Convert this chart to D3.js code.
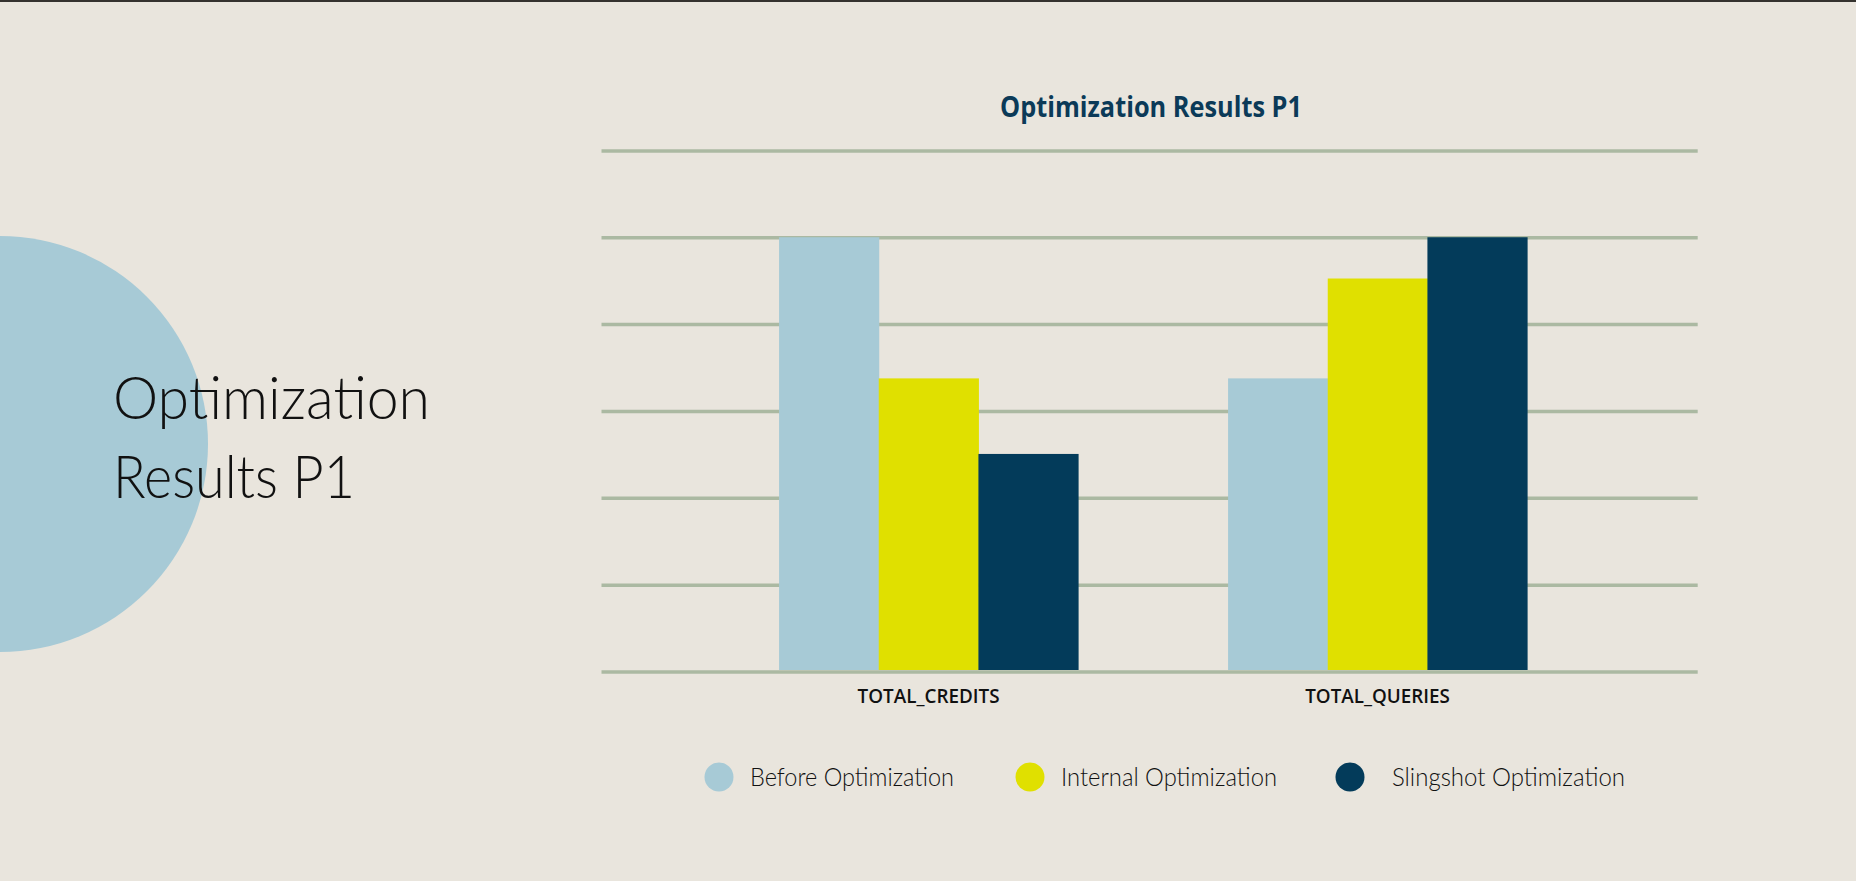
<!DOCTYPE html>
<html>
<head>
<meta charset="utf-8">
<script src="https://cdn.jsdelivr.net/npm/d3@7/dist/d3.min.js"></script>
<style>
  html, body { margin: 0; padding: 0; background: #e9e5dd; }
  svg { display: block; }
</style>
</head>
<body>
<svg id="chart" width="1856" height="881"></svg>
<script>
// ---- data ----
const categories = ["TOTAL_CREDITS", "TOTAL_QUERIES"];
const seriesNames = ["Before Optimization", "Internal Optimization", "Slingshot Optimization"];
const beforeValues = [100, 67.5];
const internalValues = [67.5, 90.5];
const slingshotValues = [50.1, 100];
const yTicks = [0, 20, 40, 60, 80, 100, 120];
const chartTitle = "Optimization Results P1";
const sideTitleLines = ["Optimization", "Results P1"];

// ---- styles ----
const colors = ["#a7cad6", "#e0e000", "#033b5a"];
const W = 1856, H = 881;
const svg = d3.select("#chart");

svg.append("rect").attr("width", W).attr("height", H).attr("fill", "#e9e5dd");
svg.append("rect").attr("width", W).attr("height", 2).attr("fill", "#34322e");

// decorative circle
svg.append("circle").attr("cx", 0).attr("cy", 444).attr("r", 208).attr("fill", "#a7cad6");

// side title
const sideWidths = [317, 242];
svg.append("g").selectAll("text").data(sideTitleLines).join("text")
  .attr("x", 113)
  .attr("y", (d, i) => 419 + i * 78.7)
  .attr("font-family", "Lato, 'Open Sans', sans-serif")
  .attr("font-weight", 300)
  .attr("font-size", 60)
  .attr("fill", "#111")
  .attr("textLength", (d, i) => sideWidths[i])
  .attr("lengthAdjust", "spacingAndGlyphs")
  .text(d => d);

// scales
const x0 = d3.scaleBand().domain(categories).range([601.5, 1697.7])
  .paddingInner(0.334).paddingOuter(0.3877).align(0.51);
const x1 = d3.scaleBand().domain(seriesNames).range([0, x0.bandwidth()]);
const y = d3.scaleLinear().domain([0, 120]).range([671.5, 150.4]);

// gridlines
svg.append("g")
  .attr("transform", "translate(601.5,0)")
  .call(d3.axisLeft(y).tickValues(yTicks).tickSize(-(1697.7 - 601.5)).tickFormat(""))
  .call(g => g.select(".domain").remove())
  .call(g => g.selectAll(".tick line").attr("stroke", "#abb9a2").attr("stroke-width", 3.5));

// title
svg.append("text")
  .attr("x", 1151).attr("y", 116.5)
  .attr("text-anchor", "middle")
  .attr("font-family", "'Open Sans', sans-serif")
  .attr("font-weight", 700)
  .attr("font-size", 29)
  .attr("fill", "#0b3a58")
  .attr("textLength", 302)
  .attr("lengthAdjust", "spacingAndGlyphs")
  .text(chartTitle);

// bars
const seriesValues = [beforeValues, internalValues, slingshotValues];
const rows = categories.map((c, ci) => ({
  cat: c,
  vals: seriesNames.map((s, si) => ({ s, si, v: seriesValues[si][ci] }))
}));
svg.append("g").selectAll("g").data(rows).join("g")
  .attr("transform", d => `translate(${x0(d.cat)},0)`)
  .selectAll("rect").data(d => d.vals).join("rect")
  .attr("x", d => x1(d.s))
  .attr("width", x1.bandwidth() + 0.5)
  .attr("y", d => y(d.v))
  .attr("height", d => y(0) - y(d.v) - 1.5)
  .attr("fill", d => colors[d.si]);

// x axis labels
const labelWidths = [142, 144.7];
svg.append("g")
  .attr("transform", `translate(0,${y(0)})`)
  .call(d3.axisBottom(x0).tickSize(0).tickPadding(0))
  .call(g => g.select(".domain").remove())
  .call(g => g.selectAll(".tick text")
    .attr("dy", 0).attr("y", 31.5)
    .attr("font-family", "'Open Sans', sans-serif")
    .attr("font-weight", 600)
    .attr("font-size", 19)
    .attr("fill", "#111")
    .attr("textLength", (d, i) => labelWidths[i])
    .attr("lengthAdjust", "spacingAndGlyphs"));

// legend
const legendCx = [719, 1030, 1350];
const legendTextX = [31, 31, 42];
const legendTextW = [204, 216, 233];
const lg = svg.append("g").selectAll("g").data(seriesNames).join("g")
  .attr("transform", (d, i) => `translate(${legendCx[i]},777)`);
lg.append("circle").attr("r", 14.5).attr("fill", (d, i) => colors[i]);
lg.append("text")
  .attr("x", (d, i) => legendTextX[i]).attr("y", 9)
  .attr("font-family", "Lato, 'Open Sans', sans-serif")
  .attr("font-weight", 300)
  .attr("font-size", 26)
  .attr("fill", "#111")
  .attr("textLength", (d, i) => legendTextW[i])
  .attr("lengthAdjust", "spacingAndGlyphs")
  .text(d => d);
</script>
</body>
</html>
